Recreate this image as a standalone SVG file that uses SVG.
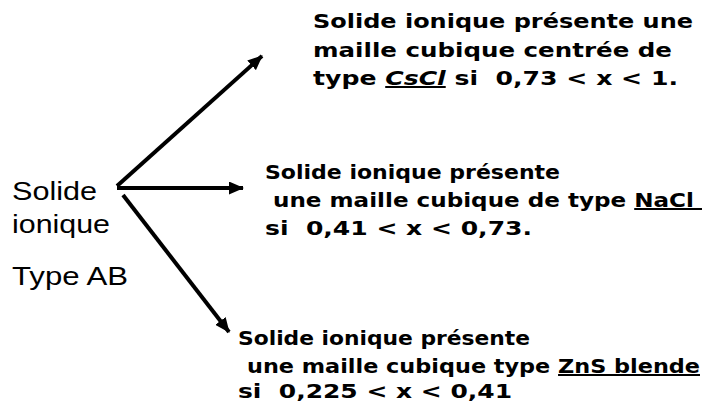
<svg xmlns="http://www.w3.org/2000/svg" width="708" height="403" viewBox="0 0 708 403">
<style>
.l{font-family:"Liberation Sans",Arial,sans-serif;font-size:26px;fill:#000}
.r{font-family:"DejaVu Sans",sans-serif;font-weight:bold;font-size:20px;fill:#000;white-space:pre}
.u{text-decoration:underline}
.c{stroke:#000;stroke-width:4;fill:none}
</style>
<defs>
<marker id="ah" viewBox="0 0 15 13" refX="14" refY="6.5" markerWidth="3.75" markerHeight="3.25" orient="auto" markerUnits="strokeWidth">
<path d="M0,0 L15,6.5 L0,13 z" fill="#000"/>
</marker>
</defs>
<rect width="708" height="403" fill="#fff"/>
<g id="connectors">
<path class="c" d="M117,186 L262,56" marker-end="url(#ah)"/>
<path class="c" d="M117,188 L243,188" marker-end="url(#ah)"/>
<path class="c" d="M123,195 L229,332" marker-end="url(#ah)"/>
</g>
<g id="source">
<text class="l" x="12" y="200" textLength="85" lengthAdjust="spacingAndGlyphs">Solide</text>
<text class="l" x="12" y="233" textLength="98" lengthAdjust="spacingAndGlyphs">ionique</text>
<text class="l" x="12" y="285" textLength="116" lengthAdjust="spacingAndGlyphs">Type AB</text>
</g>
<g id="cscl">
<text class="r" x="313" y="28" textLength="380" lengthAdjust="spacingAndGlyphs">Solide ionique présente une</text>
<text class="r" x="313" y="57" textLength="359" lengthAdjust="spacingAndGlyphs">maille cubique centrée de</text>
<text class="r" x="313" y="85" textLength="365" lengthAdjust="spacingAndGlyphs">type <tspan class="u" font-style="italic">CsCl</tspan> si  0,73 &lt; x &lt; 1.</text>
</g>
<g id="nacl">
<text class="r" x="265" y="179" textLength="295" lengthAdjust="spacingAndGlyphs">Solide ionique présente</text>
<text class="r" x="273" y="207" textLength="429" lengthAdjust="spacingAndGlyphs">une maille cubique de type <tspan class="u">NaCl </tspan></text>
<text class="r" x="265" y="235" textLength="267" lengthAdjust="spacingAndGlyphs">si  0,41 &lt; x &lt; 0,73.</text>
</g>
<g id="zns">
<text class="r" x="238" y="345" textLength="292" lengthAdjust="spacingAndGlyphs">Solide ionique présente</text>
<text class="r" x="247" y="373" textLength="453" lengthAdjust="spacingAndGlyphs">une maille cubique type <tspan class="u">ZnS blende</tspan></text>
<text class="r" x="238" y="398" textLength="274" lengthAdjust="spacingAndGlyphs">si  0,225 &lt; x &lt; 0,41</text>
</g>
</svg>
